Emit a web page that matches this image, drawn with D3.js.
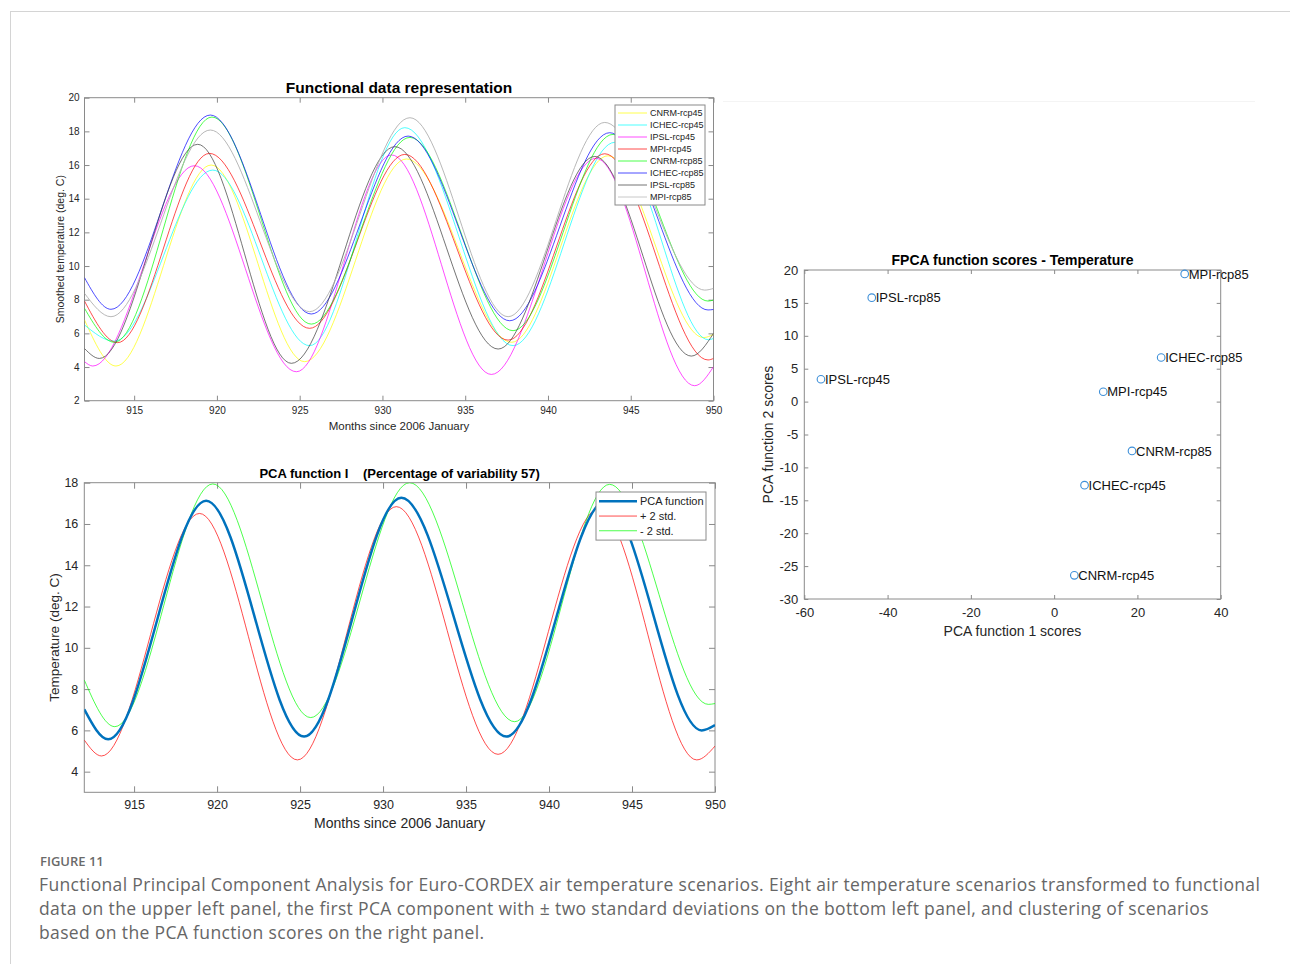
<!DOCTYPE html>
<html>
<head>
<meta charset="utf-8">
<script src="https://cdn.jsdelivr.net/npm/d3@7"></script>
<style>
  body { margin: 0; background: #fff; }
  svg text { font-family: "Liberation Sans", Arial, sans-serif; fill: #262626; }
  .caption text { font-family: "Open Sans", Lato, sans-serif; fill: #666; }
</style>
</head>
<body>
<svg id="fig" width="1290" height="964"></svg>
<script>

// scenario names + line colours (matlab style)
const scenarios = ["CNRM-rcp45", "ICHEC-rcp45", "IPSL-rcp45", "MPI-rcp45",
                   "CNRM-rcp85", "ICHEC-rcp85", "IPSL-rcp85", "MPI-rcp85"];
const scenarioColors = ["#ffff00", "#00ffff", "#ff00ff", "#ff0000",
                        "#00ff00", "#0000ff", "#3a3a3a", "#b0b0b0"];

// smoothed temperature, [month, deg C] read at the ends and at each peak / trough
const cnrm45  = [[912, 6.8], [913.9, 4.06], [919.65, 16.0], [925.3, 4.32], [931.45, 16.36], [937.8, 5.47], [943.63, 16.55], [949.4, 5.75], [950, 5.94]];
const ichec45 = [[912, 6.5], [913.8, 5.54], [919.75, 15.7], [925.6, 5.27], [931.35, 18.22], [937.89, 5.27], [944.04, 17.35], [949.7, 5.62], [950, 5.7]];
const ipsl45  = [[912, 4.32], [912.5, 4.06], [918.64, 15.96], [924.8, 3.72], [930.55, 16.6], [936.58, 3.56], [942.9, 16.4], [948.86, 2.89], [950, 4.02]];
const mpi45   = [[912, 7.92], [914.0, 5.45], [919.55, 16.69], [925.6, 6.3], [931.35, 16.63], [937.59, 5.6], [943.43, 16.67], [949.67, 4.42], [950, 4.51]];
const cnrm85  = [[912, 7.49], [913.8, 5.47], [919.7, 18.85], [925.7, 6.55], [931.66, 17.64], [937.89, 6.16], [943.93, 17.82], [949.67, 7.92], [950, 7.98]];
const ichec85 = [[912, 9.31], [913.6, 7.43], [919.6, 18.97], [925.7, 7.15], [931.55, 17.72], [937.69, 6.75], [943.73, 17.92], [949.67, 7.39], [950, 7.42]];
const ipsl85  = [[912, 5.1], [912.9, 4.51], [918.84, 17.23], [924.5, 4.22], [930.75, 17.09], [936.99, 5.07], [942.83, 16.51], [948.66, 4.65], [950, 6.0]];
const mpi85   = [[912, 8.38], [913.6, 6.99], [919.6, 18.08], [925.6, 7.29], [931.66, 18.81], [937.59, 6.99], [943.43, 18.53], [949.47, 8.57], [950, 8.67]];
const scenarioCurves = [cnrm45, ichec45, ipsl45, mpi45, cnrm85, ichec85, ipsl85, mpi85];

// first PCA function and +/- 2 std
const pcaMean  = [[912, 7.02], [913.44, 5.57], [919.34, 17.13], [925.24, 5.7], [931.1, 17.27], [937.43, 5.7], [943.4, 17.1], [949.2, 6.0], [950, 6.26]];
const pcaPlus  = [[912, 5.53], [913.04, 4.76], [918.94, 16.51], [924.84, 4.57], [930.8, 16.84], [936.93, 4.84], [943.0, 16.75], [948.9, 4.57], [950, 5.24]];
const pcaMinus = [[912, 8.44], [913.84, 6.18], [919.74, 17.94], [925.64, 6.62], [931.6, 18.0], [937.93, 6.42], [943.65, 17.92], [949.6, 7.26], [950, 7.3]];
const pcaNames = ["PCA function", "+ 2 std.", "- 2 std."];

// FPCA scores, same order as scenarios
const score1 = [4.85, 7.3, -56.0, 11.8, 18.7, 25.7, -43.8, 31.35];
const score2 = [-26.4, -12.7, 3.4, 1.5, -7.5, 6.7, 15.8, 19.4];

// ticks
const monthTicks = [915, 920, 925, 930, 935, 940, 945, 950];
const topTempTicks = [2, 4, 6, 8, 10, 12, 14, 16, 18, 20];
const pcaTempTicks = [4, 6, 8, 10, 12, 14, 16, 18];
const score1Ticks = [-60, -40, -20, 0, 20, 40];
const score2Ticks = [-30, -25, -20, -15, -10, -5, 0, 5, 10, 15, 20];

const captionLines = [
  "Functional Principal Component Analysis for Euro-CORDEX air temperature scenarios. Eight air temperature scenarios transformed to functional",
  "data on the upper left panel, the first PCA component with \u00b1 two standard deviations on the bottom left panel, and clustering of scenarios",
  "based on the PCA function scores on the right panel."
];

const svg = d3.select("#fig");

// page frame
svg.append("line").attr("x1", 10).attr("x2", 1290).attr("y1", 11.5).attr("y2", 11.5).attr("stroke", "#d4d4d4");
svg.append("line").attr("x1", 10.5).attr("x2", 10.5).attr("y1", 11).attr("y2", 964).attr("stroke", "#d4d4d4");
svg.append("line").attr("x1", 723).attr("x2", 1255).attr("y1", 101.5).attr("y2", 101.5).attr("stroke", "#f4f4f4");

// matlab prints a plain hyphen for negatives
const plainNum = d => String(d);

/**
 * matlab looking axes box : ticks inside on all 4 sides
 */
function makeAxes(box, xDomain, yDomain, xTicks, yTicks, opt) {
  let g = svg.append("g").attr("transform", `translate(${box.left},${box.top})`);
  let x = d3.scaleLinear().domain(xDomain).range([0, box.width]);
  let y = d3.scaleLinear().domain(yDomain).range([box.height, 0]);

  let styleAxis = function (a) {
    a.select(".domain").remove();
    a.selectAll(".tick line").attr("stroke", "#8a8a8a");
    a.selectAll(".tick text").attr("font-size", opt.tickFont).attr("fill", "#333");
  };

  g.append("g").attr("transform", `translate(0,${box.height})`)
    .call(d3.axisBottom(x).tickValues(xTicks).tickFormat(plainNum).tickSize(-opt.tickLen).tickPadding(opt.xPad)).call(styleAxis);
  g.append("g")
    .call(d3.axisTop(x).tickValues(xTicks).tickSize(-opt.tickLen).tickFormat("")).call(styleAxis);
  g.append("g")
    .call(d3.axisLeft(y).tickValues(yTicks).tickFormat(plainNum).tickSize(-opt.tickLen).tickPadding(opt.yPad)).call(styleAxis);
  g.append("g").attr("transform", `translate(${box.width},0)`)
    .call(d3.axisRight(y).tickValues(yTicks).tickSize(-opt.tickLen).tickFormat("")).call(styleAxis);

  g.append("rect").attr("width", box.width).attr("height", box.height)
    .attr("fill", "none").attr("stroke", "#8a8a8a").attr("stroke-width", 1);

  // titles and labels
  g.append("text").attr("x", box.width / 2).attr("y", opt.titleY - box.top)
    .attr("text-anchor", "middle").attr("dy", "0.35em").attr("font-weight", "bold")
    .attr("font-size", opt.titleFont).style("fill", "#000").style("white-space", "pre").text(opt.title);
  g.append("text").attr("x", box.width / 2).attr("y", opt.xLabelY - box.top)
    .attr("text-anchor", "middle").attr("dy", "0.35em")
    .attr("font-size", opt.xLabelFont || opt.labelFont).text(opt.xLabel);
  g.append("text")
    .attr("transform", `translate(${opt.yLabelX - box.left},${box.height / 2}) rotate(-90)`)
    .attr("text-anchor", "middle").attr("dy", "0.35em")
    .attr("font-size", opt.labelFont).text(opt.yLabel);

  let clipId = "clip" + Math.round(box.left) + Math.round(box.top);
  g.append("clipPath").attr("id", clipId)
    .append("rect").attr("width", box.width).attr("height", box.height);
  let plot = g.append("g").attr("clip-path", `url(#${clipId})`);

  return { g: g, plot: plot, x: x, y: y };
}

function legend(g, x0, y0, w, rowH, names, colors, widths, font, lineLen) {
  let h = rowH * names.length + 4;
  let lg = g.append("g").attr("transform", `translate(${x0},${y0})`);
  lg.append("rect").attr("width", w).attr("height", h)
    .attr("fill", "#fff").attr("stroke", "#8a8a8a");
  names.forEach(function (n, i) {
    let yy = 2 + rowH * (i + 0.5);
    lg.append("line").attr("x1", 3).attr("x2", 3 + lineLen).attr("y1", yy).attr("y2", yy)
      .attr("stroke", colors[i]).attr("stroke-width", widths[i]).attr("stroke-opacity", widths[i] > 1.5 ? 1 : 0.7);
    lg.append("text").attr("x", lineLen + 6).attr("y", yy).attr("dy", "0.35em")
      .attr("font-size", font).style("fill", "#222").text(n);
  });
}

// ---------- upper left : functional data ----------
let fd = makeAxes({ left: 84.5, top: 97.7, width: 629, height: 303 },
  [912, 950], [2, 20], monthTicks, topTempTicks,
  { tickLen: 5, tickFont: 10, xPad: 6, yPad: 5, titleFont: 15.5, labelFont: 10.5, xLabelFont: 11.5,
    title: "Functional data representation", titleY: 88,
    xLabel: "Months since 2006 January", xLabelY: 426, yLabel: "Smoothed temperature (deg. C)", yLabelX: 60 });

let fdLine = d3.line().x(d => fd.x(d[0])).y(d => fd.y(d[1])).curve(d3.curveMonotoneX);
fd.plot.selectAll("path.scen").data(scenarioCurves).join("path")
  .attr("class", "scen")
  .attr("d", fdLine)
  .attr("fill", "none")
  .attr("stroke", (d, i) => scenarioColors[i])
  .attr("stroke-opacity", (d, i) => i == 7 ? 0.9 : 0.7)
  .attr("stroke-width", 1);

legend(fd.g, 615 - 84.5, 105 - 97.7, 90, 12, scenarios, scenarioColors, scenarios.map(() => 1), 9, 29);

// ---------- lower left : PCA function ----------
let pca = makeAxes({ left: 84.3, top: 482.7, width: 630.7, height: 309.6 },
  [912, 950], [3, 18], monthTicks, pcaTempTicks,
  { tickLen: 6, tickFont: 12.5, xPad: 8, yPad: 6, titleFont: 13, labelFont: 13.5, xLabelFont: 14,
    title: "PCA function I    (Percentage of variability 57)", titleY: 473,
    xLabel: "Months since 2006 January", xLabelY: 823, yLabel: "Temperature (deg. C)", yLabelX: 54 });

let pcaLine = d3.line().x(d => pca.x(d[0])).y(d => pca.y(d[1])).curve(d3.curveMonotoneX);
let pcaColors = ["#0072bd", "#ff0000", "#00ff00"];
let pcaWidths = [2.5, 1, 1];
[pcaPlus, pcaMinus, pcaMean].forEach(function (s) {
  let i = s === pcaMean ? 0 : (s === pcaPlus ? 1 : 2);
  pca.plot.append("path").attr("d", pcaLine(s))
    .attr("fill", "none").attr("stroke", pcaColors[i])
    .attr("stroke-opacity", i == 0 ? 1 : 0.7)
    .attr("stroke-width", pcaWidths[i]);
});
legend(pca.g, 596 - 84.3, 492 - 482.7, 110, 14.7, pcaNames, pcaColors, pcaWidths, 11, 38);

// ---------- right : scores ----------
let sc = makeAxes({ left: 804.3, top: 270, width: 416.4, height: 329 },
  [-60, 40], [-30, 20], score1Ticks, score2Ticks,
  { tickLen: 4, tickFont: 13, xPad: 9, yPad: 6, titleFont: 14, labelFont: 14,
    title: "FPCA function scores - Temperature", titleY: 260,
    xLabel: "PCA function 1 scores", xLabelY: 631, yLabel: "PCA function 2 scores", yLabelX: 768 });

let pts = sc.g.selectAll("g.pt").data(scenarios).join("g").attr("class", "pt")
  .attr("transform", (d, i) => `translate(${sc.x(score1[i])},${sc.y(score2[i])})`);
pts.append("circle").attr("r", 3.8).attr("fill", "none").attr("stroke", "#3d8fd8").attr("stroke-width", 1.1);
pts.append("text").attr("x", 4).attr("dy", "0.35em").attr("font-size", 13).style("fill", "#111").text(d => d);

// ---------- caption ----------
let cap = svg.append("g").attr("class", "caption");
cap.append("text").attr("x", 40).attr("y", 866).attr("font-size", 13).attr("font-weight", 600)
  .style("fill", "#6a6a6a").text("FIGURE 11");
cap.selectAll("text.line").data(captionLines).join("text").attr("class", "line")
  .attr("x", 39).attr("y", (d, i) => 891 + i * 24)
  .attr("font-size", 17.5).attr("letter-spacing", 0.35).text(d => d);

</script>
</body>
</html>
